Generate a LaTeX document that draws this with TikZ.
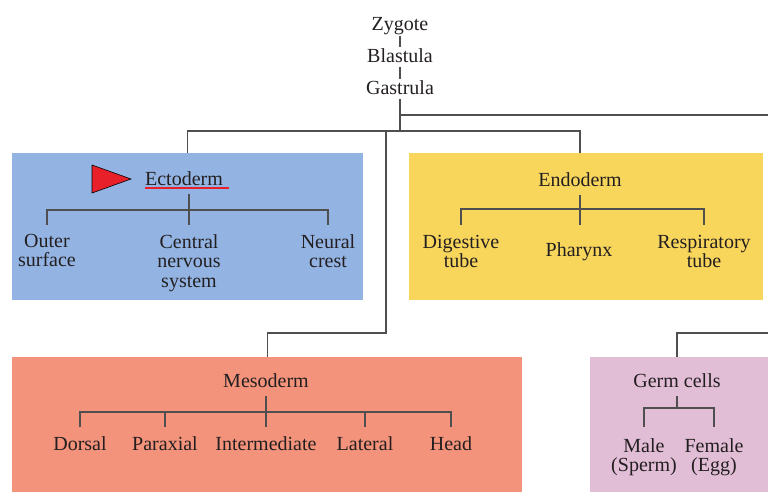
\documentclass[tikz,border=0pt]{standalone}
\usepackage{fontspec}
\setmainfont{Liberation Serif}
\definecolor{ectoc}{HTML}{93B4E3}
\definecolor{endoc}{HTML}{F8D65C}
\definecolor{mesoc}{HTML}{F4937B}
\definecolor{germc}{HTML}{E1BDD6}
\definecolor{lnc}{HTML}{4F4F4F}
\definecolor{txc}{HTML}{231F20}
\definecolor{redc}{HTML}{E8202A}
\begin{document}
\begin{tikzpicture}[x=1pt,y=-1pt,
  ln/.style={draw=lnc, line width=1.2pt},
  area/.style={anchor=north west, inner sep=0pt, draw=none},
  txt/.style={inner sep=0pt, text=txc, font=\fontsize{20}{19.5}\selectfont},
  ttl/.style={txt, anchor=base},
  kid/.style={txt, anchor=north, align=center}]
\useasboundingbox (0,0) rectangle (768,491);
\fill[white] (0,0) rectangle (768,491);

% boxes
\node[area, fill=ectoc, minimum width=351pt, minimum height=147pt] (ectobox) at (12,153) {};
\node[area, fill=endoc, minimum width=354pt, minimum height=147pt] (endobox) at (409,153) {};
\node[area, fill=mesoc, minimum width=510pt, minimum height=140pt] (mesobox) at (12,357) {};
\node[area, fill=germc, minimum width=190pt, minimum height=140pt] (germbox) at (590,357) {};

% top chain
\node[ttl] (zyg) at (400,30) {Zygote};
\node[ttl] (bla) at (400,62) {Blastula};
\node[ttl] (gas) at (400,94) {Gastrula};
\draw[ln, shorten <=1pt, shorten >=1pt] (zyg.south) -- (bla.north);
\draw[ln, shorten <=5pt, shorten >=1pt] (bla.south) -- (gas.north);

\coordinate (split) at (400,131);
\coordinate (upper) at (400,115);
\coordinate (offA) at (768,115);
\coordinate (mtop) at (386,131);
\coordinate (mbend) at (386,333);
\coordinate (offB) at (768,333);

% titles
\node[ttl] (ecto) at (184,185) {Ectoderm};
\node[ttl] (endo) at (580,186) {Endoderm};
\node[ttl] (meso) at (266,387) {Mesoderm};
\node[ttl] (germ) at (677,387) {Germ cells};

% main connectors
\draw[ln, shorten <=5pt] (gas.south) -- (split) -| (ectobox.north);
\draw[ln] (split) -| (endo |- endobox.north);
\draw[ln] (upper) -- (offA);
\draw[ln] (mtop) -- (mbend) -| (mesobox.north);
\draw[ln] (offB) -| (germ |- germbox.north);

% ectoderm marker
\draw[redc, line width=1.2pt] ([yshift=-3pt]ecto.base west) -- ++(84,0);
\draw[fill=redc, draw=black, line width=0.6pt] (92,165) -- (92,193) -- (131,179) -- cycle;

% ectoderm children
\node[kid] (outer) at (47,234) {Outer\\surface};
\node[kid] (cns) at (189,234) {Central\\nervous\\system};
\node[kid] (neural) at (328,234) {Neural\\crest};
\draw[ln, shorten <=9pt, shorten >=9pt] (outer.north) -- ++(0,-24) -| (neural.north);
\draw[ln, shorten <=9pt, shorten >=9pt] (cns.north |- ecto.south) -- (cns.north);

% endoderm children
\node[kid] (dig) at (461,235) {Digestive\\tube};
\node[kid] (phar) at (579,242) {Pharynx};
\node[kid] (resp) at (704,235) {Respiratory\\tube};
\draw[ln, shorten <=10pt, shorten >=10pt] (dig.north) -- ++(0,-26) -| (resp.north);
\draw[ln, shorten <=9pt, shorten >=10pt] (endo.south) -- (endo.south |- dig.north);

% mesoderm children
\node[kid] (dorsal) at (80,436) {Dorsal};
\node[kid] (parax) at (165,436) {Paraxial};
\node[kid] (inter) at (266,436) {Intermediate};
\node[kid] (lat) at (365,436) {Lateral};
\node[kid] (head) at (451,436) {Head};
\draw[ln, shorten <=9pt, shorten >=9pt] (dorsal.north) -- ++(0,-24) -| (head.north);
\draw[ln, shorten >=9pt] ([yshift=24pt]parax.north) -- (parax.north);
\draw[ln, shorten >=9pt] ([yshift=24pt]lat.north) -- (lat.north);
\draw[ln, shorten <=9pt, shorten >=9pt] (meso.south) -- (inter.north);

% germ cell children
\node[kid] (male) at (644,438) {Male\\(Sperm)};
\node[kid] (female) at (714,438) {Female\\(Egg)};
\draw[ln, shorten <=11pt, shorten >=11pt] (male.north) -- ++(0,-30) -| (female.north);
\draw[ln, shorten <=9pt, shorten >=30pt] (germ.south) -- (germ.south |- male.north);
\end{tikzpicture}
\end{document}
